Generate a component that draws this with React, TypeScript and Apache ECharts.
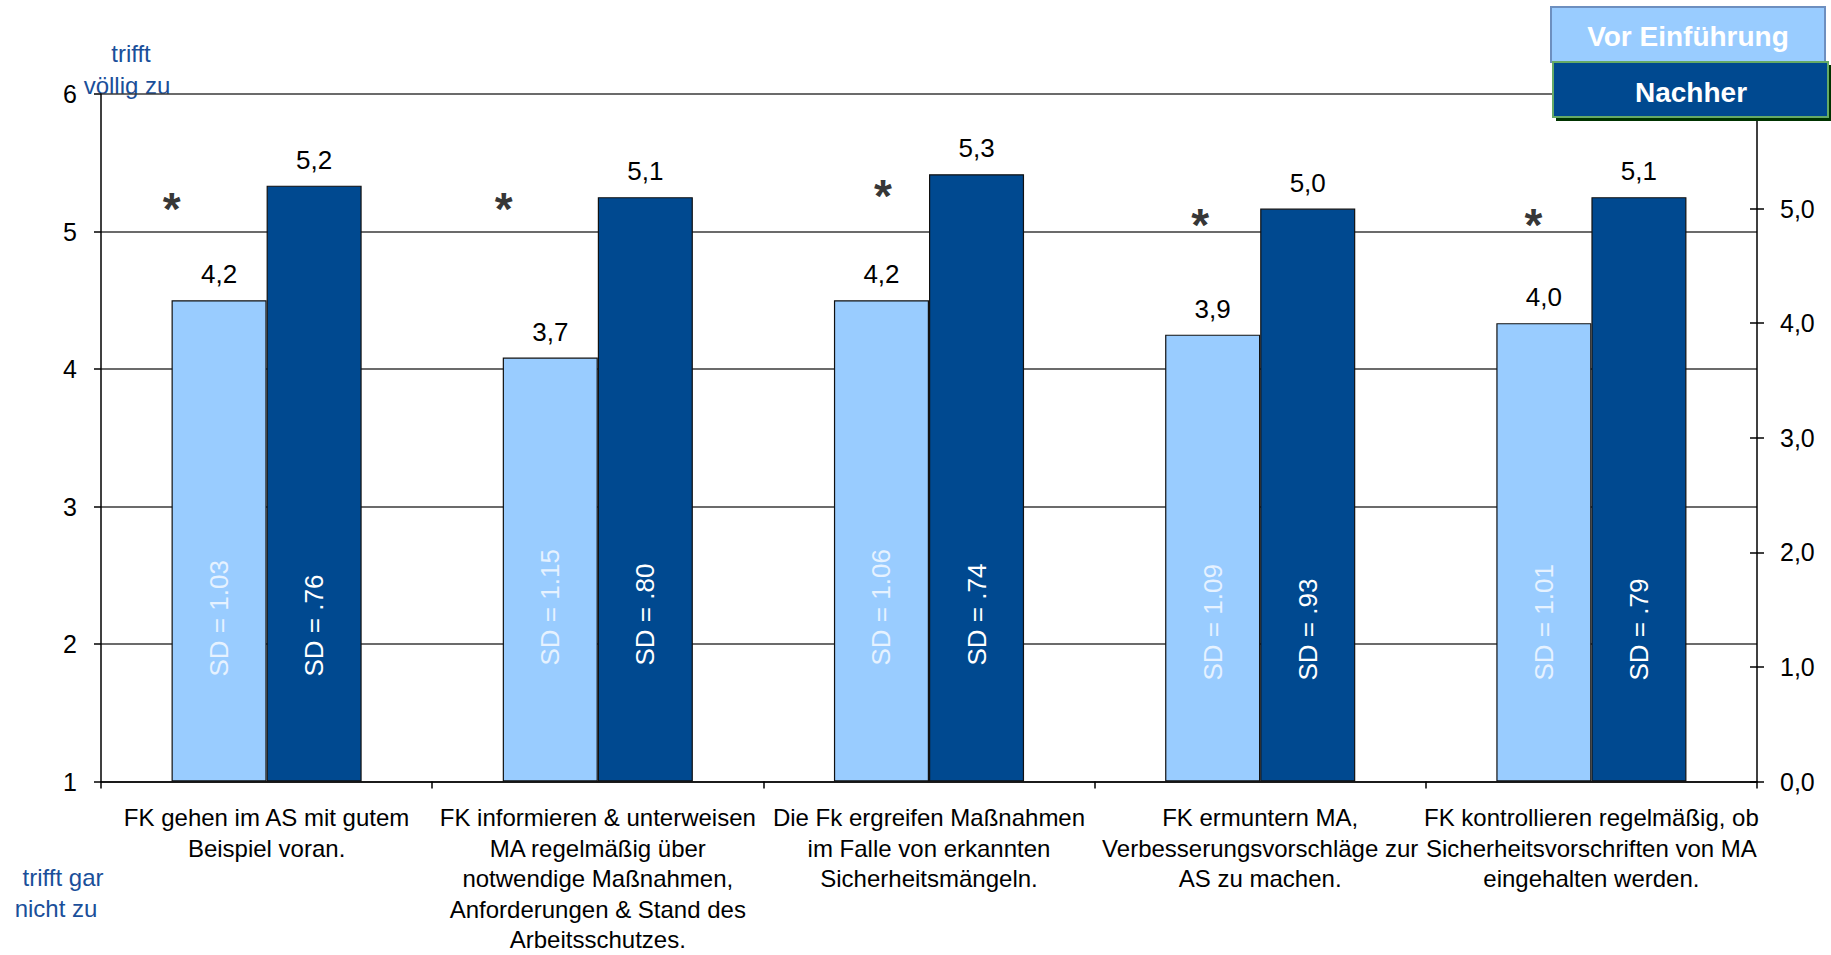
import React, { useEffect, useRef } from "react";
import * as echarts from "echarts";

const categories = [
  "FK gehen im AS mit gutem\nBeispiel voran.",
  "FK informieren & unterweisen\nMA regelmäßig über\nnotwendige Maßnahmen,\nAnforderungen & Stand des\nArbeitsschutzes.",
  "Die Fk ergreifen Maßnahmen\nim Falle von erkannten\nSicherheitsmängeln.",
  "FK ermuntern MA,\nVerbesserungsvorschläge zur\nAS zu machen.",
  "FK kontrollieren regelmäßig, ob\nSicherheitsvorschriften von MA\neingehalten werden.",
];
const vorValues = [4.2, 3.7, 4.2, 3.9, 4.0];
const nachValues = [5.2, 5.1, 5.3, 5.0, 5.1];
const vorSD = ["1.03", "1.15", "1.06", "1.09", "1.01"];
const nachSD = [".76", ".80", ".74", ".93", ".79"];
const significant = [true, true, true, true, true];
const seriesNames = ["Vor Einführung", "Nachher"];

// layout-only constants (positions of annotations)
const asteriskHeights = [5.08, 5.08, 5.2, 4.945, 4.945];
const asteriskDx = [-95, -94, -46, -60, -58];
const sdLift = [105, 116, 116, 101, 101];

const FONT = "Liberation Sans";
const LIGHT = "#99CCFF";
const DARK = "#004990";

const comma = (v: number) => v.toFixed(1).replace(".", ",");

export default function App() {
  const ref = useRef<HTMLDivElement>(null);
  useEffect(() => {
    if (!ref.current) return;
    const chart = echarts.init(ref.current, undefined, { renderer: "svg" });
    const grid = { left: 101, top: 94, width: 1656, height: 691, containLabel: false };
    const xBase = {
      type: "category" as const,
      data: categories,
    };
    const sdSeries = (vals: number[], sds: string[], color: string, name: string) => ({
      type: "bar",
      name,
      xAxisIndex: 1,
      yAxisIndex: 1,
      barGap: "0%",
      barCategoryGap: "42.6%",
      silent: true,
      z: 5,
      itemStyle: { color: "rgba(0,0,0,0)", borderWidth: 0 },
      data: vals.map((v, i) => ({
        value: v,
        label: {
          show: true,
          position: "insideBottom",
          distance: sdLift[i],
          rotate: 90,
          align: "left",
          verticalAlign: "middle",
          formatter: "SD = " + sds[i],
          color,
          fontFamily: FONT,
          fontSize: 26,
        },
      })),
    });
    const mainBar = (vals: number[], color: string, name: string) => ({
      type: "bar",
      name,
      xAxisIndex: 0,
      yAxisIndex: 1,
      barGap: "0%",
      barCategoryGap: "42.6%",
      itemStyle: { color, borderColor: "#111", borderWidth: 1.2 },
      label: {
        show: true,
        position: "top",
        distance: 13,
        formatter: (p: any) => comma(p.value),
        color: "#000",
        fontFamily: FONT,
        fontSize: 26,
      },
      data: vals,
    });
    const legendZ = { z: 200 };
    chart.setOption({
      animation: false,
      backgroundColor: "#fff",
      textStyle: { fontFamily: FONT },
      grid,
      xAxis: [
        {
          ...xBase,
          axisLine: { lineStyle: { color: "#000", width: 1.5 } },
          axisTick: { show: true, length: 7, interval: 0, lineStyle: { color: "#000", width: 1.5 } },
          axisLabel: {
            interval: 0,
            margin: 21,
            color: "#000",
            fontFamily: FONT,
            fontSize: 24,
            lineHeight: 30.5,
            align: "center",
            verticalAlign: "top",
          },
          splitLine: { show: false },
        },
        { ...xBase, show: false },
      ],
      yAxis: [
        {
          type: "value",
          position: "left",
          min: 1,
          max: 6,
          interval: 1,
          axisLine: { show: true, lineStyle: { color: "#000", width: 1.5 } },
          axisTick: { show: true, length: 7, lineStyle: { color: "#000", width: 1.5 } },
          axisLabel: { margin: 24, color: "#000", fontFamily: FONT, fontSize: 25 },
          splitLine: { show: true, lineStyle: { color: "#3a3a3a", width: 1.5 } },
        },
        {
          type: "value",
          position: "right",
          min: 0,
          max: 6,
          interval: 1,
          axisLine: { show: true, lineStyle: { color: "#000", width: 1.5 } },
          axisTick: { show: true, length: 7, lineStyle: { color: "#000", width: 1.5 } },
          axisLabel: {
            margin: 23,
            color: "#000",
            fontFamily: FONT,
            fontSize: 25,
            formatter: (v: number) => (v >= 6 ? "" : comma(v)),
          },
          splitLine: { show: false },
        },
        {
          type: "value",
          position: "right",
          min: 0,
          max: 6,
          interval: 1,
          axisLine: { show: false },
          axisTick: { show: true, inside: true, length: 7, lineStyle: { color: "#000", width: 1.5 } },
          axisLabel: { show: false },
          splitLine: { show: false },
        },
      ],
      series: [
        mainBar(vorValues, LIGHT, seriesNames[0]),
        mainBar(nachValues, DARK, seriesNames[1]),
        sdSeries(vorValues, vorSD, "#e6f2ff", "SD " + seriesNames[0]),
        sdSeries(nachValues, nachSD, "#ffffff", "SD " + seriesNames[1]),
        {
          type: "scatter",
          name: "Signifikanz",
          xAxisIndex: 0,
          yAxisIndex: 1,
          symbolSize: 1,
          itemStyle: { color: "rgba(0,0,0,0)" },
          silent: true,
          z: 6,
          data: asteriskHeights.map((h, i) => ({
            value: [i, h],
            label: {
              show: significant[i],
              position: "inside",
              offset: [asteriskDx[i], 10],
              formatter: "*",
              color: "#000",
              fontFamily: FONT,
              fontWeight: "bold",
              fontSize: 46,
            },
          })),
        },
      ],
      graphic: [
        {
          type: "text",
          x: 131,
          y: 53,
          style: { text: "trifft", fill: "#1a4f9a", font: `24px "${FONT}"`, textAlign: "center", textVerticalAlign: "middle" },
        },
        {
          type: "text",
          x: 127,
          y: 85,
          style: { text: "völlig zu", fill: "#1a4f9a", font: `24px "${FONT}"`, textAlign: "center", textVerticalAlign: "middle" },
        },
        {
          type: "text",
          x: 63,
          y: 877,
          style: { text: "trifft gar", fill: "#1a4f9a", font: `24px "${FONT}"`, textAlign: "center", textVerticalAlign: "middle" },
        },
        {
          type: "text",
          x: 56,
          y: 908,
          style: { text: "nicht zu", fill: "#1a4f9a", font: `24px "${FONT}"`, textAlign: "center", textVerticalAlign: "middle" },
        },
        {
          type: "rect",
          ...legendZ,
          shape: { x: 1551, y: 7, width: 274, height: 55 },
          style: { fill: LIGHT, stroke: "#6d8fbf", lineWidth: 2 },
        },
        {
          type: "text",
          ...legendZ,
          x: 1688,
          y: 36,
          style: {
            text: seriesNames[0],
            fill: "#fff",
            font: `bold 28px "${FONT}"`,
            textAlign: "center",
            textVerticalAlign: "middle",
          },
        },
        {
          type: "rect",
          ...legendZ,
          shape: { x: 1556, y: 65, width: 276, height: 56 },
          style: { fill: "#003300" },
        },
        {
          type: "rect",
          ...legendZ,
          shape: { x: 1553, y: 62, width: 275, height: 55 },
          style: { fill: DARK, stroke: "#66aa66", lineWidth: 2 },
        },
        {
          type: "text",
          ...legendZ,
          x: 1691,
          y: 92,
          style: {
            text: seriesNames[1],
            fill: "#fff",
            font: `bold 28px "${FONT}"`,
            textAlign: "center",
            textVerticalAlign: "middle",
          },
        },
      ],
    });
    return () => chart.dispose();
  }, []);
  return (
    <div
      ref={ref}
      style={{ position: "fixed", left: 0, top: 0, width: 1831, height: 955, background: "#fff" }}
    />
  );
}
